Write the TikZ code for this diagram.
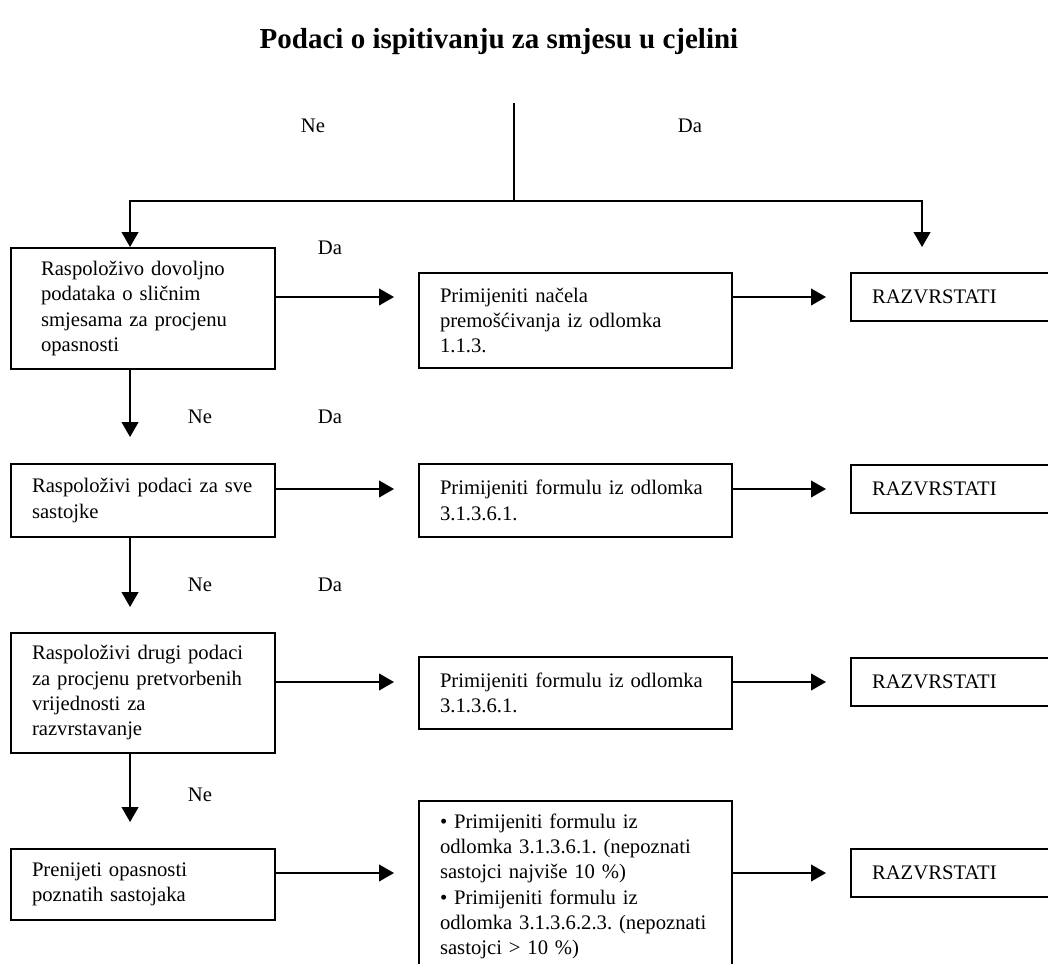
\documentclass[tikz,border=0pt]{standalone}
\usepackage{fontspec}
\setmainfont{Liberation Serif}
\usetikzlibrary{arrows.meta}
\frenchspacing
\begin{document}
% one unit = one pixel of a 1048 x 964 sheet; y grows downwards
\begin{tikzpicture}[x=0.6pt,y=-0.6pt,
  every node/.style={font=\fontsize{12.4pt}{15.2pt}\selectfont},
  box/.style={draw, line width=1.15pt, inner sep=0pt, align=left},
  lbl/.style={inner sep=0pt},
  arr/.style={line width=1.2pt, -{Triangle[width=10pt,length=9pt]}},
  link/.style={line width=1.2pt}]
\useasboundingbox (0,0) rectangle (1048,964);
\clip (0,0) rectangle (1048,964);
\fill[white] (0,0) rectangle (1048,964);

% heading
\node[lbl, font=\fontsize{17.4pt}{21pt}\selectfont\bfseries] (title) at (499,42)
  {Podaci o ispitivanju za smjesu u cjelini};

% left column: questions
\node[box, minimum width=158.4pt, minimum height=72.6pt, text width=122.4pt] (L1) at (143,308.5)
  {\mbox{Raspoloživo dovoljno}\\ \mbox{podataka o sličnim}\\ \mbox{smjesama za procjenu}\\ opasnosti};
\node[box, minimum width=158.4pt, minimum height=43.8pt, text width=133.2pt] (L2) at (143,500.5)
  {\mbox{Raspoloživi podaci za sve}\\ sastojke};
\node[box, minimum width=158.4pt, minimum height=72pt, text width=133.2pt] (L3) at (143,693)
  {\mbox{Raspoloživi drugi podaci}\\ \mbox{za procjenu pretvorbenih}\\ \mbox{vrijednosti za}\\ razvrstavanje};
\node[box, minimum width=158.4pt, minimum height=42.6pt, text width=133.2pt] (L4) at (143,884.5)
  {\mbox{Prenijeti opasnosti}\\ \mbox{poznatih sastojaka}};

% middle column: methods
\node[box, minimum width=187.8pt, minimum height=57pt, text width=162.6pt] (M1) at (575.5,320.5)
  {\mbox{Primijeniti načela}\\ \mbox{premošćivanja iz odlomka}\\ 1.1.3.};
\node[box, minimum width=187.8pt, minimum height=43.8pt, text width=162.6pt] (M2) at (575.5,500.5)
  {\mbox{Primijeniti formulu iz odlomka}\\ 3.1.3.6.1.};
\node[box, minimum width=187.8pt, minimum height=43.2pt, text width=162.6pt] (M3) at (575.5,693)
  {\mbox{Primijeniti formulu iz odlomka}\\ 3.1.3.6.1.};
\node[box, minimum width=187.8pt, minimum height=102.6pt, text width=162.6pt] (M4) at (575.5,886.5)
  {\mbox{• Primijeniti formulu iz}\\ \mbox{odlomka 3.1.3.6.1. (nepoznati}\\ \mbox{sastojci najviše 10 \%)}\\
   \mbox{• Primijeniti formulu iz}\\ \mbox{odlomka 3.1.3.6.2.3. (nepoznati}\\ \mbox{sastojci > 10 \%)}};

% right column: outcome
\node[box, minimum width=125.4pt, minimum height=28.8pt, text width=100.2pt] (R1) at (955.5,297) {RAZVRSTATI};
\node[box, minimum width=125.4pt, minimum height=28.8pt, text width=100.2pt] (R2) at (955.5,489) {RAZVRSTATI};
\node[box, minimum width=125.4pt, minimum height=28.8pt, text width=100.2pt] (R3) at (955.5,682) {RAZVRSTATI};
\node[box, minimum width=125.4pt, minimum height=28.8pt, text width=100.2pt] (R4) at (955.5,873) {RAZVRSTATI};

% branch labels
\node[lbl] (ne0) at (313,126) {Ne};
\node[lbl] (da0) at (690,126) {Da};
\node[lbl] (da1) at (330,248) {Da};
\node[lbl] (ne1) at (200,417) {Ne};
\node[lbl] (da2) at (330,417) {Da};
\node[lbl] (ne2) at (200,585) {Ne};
\node[lbl] (da3) at (330,585) {Da};
\node[lbl] (ne3) at (200,795) {Ne};

% top split
\coordinate (start) at (514,103);
\coordinate (split) at (514,201);
\draw[line width=0.8pt] (start) -- (split);
\draw[arr] (split) -| ([xshift=72pt]L1.north west);
\draw[arr, shorten >=15pt] (split) -| ([xshift=43.2pt]R1.north west);

% downward chain of the left column
\draw[arr, shorten >=15.6pt] ([xshift=72pt]L1.south west) -- ([xshift=72pt]L2.north west);
\draw[arr, shorten >=15pt] ([xshift=72pt]L2.south west) -- ([xshift=72pt]L3.north west);
\draw[arr, shorten >=15.6pt] ([xshift=72pt]L3.south west) -- ([xshift=72pt]L4.north west);

% left to middle
\draw[arr, shorten >=14.4pt] ([yshift=6.9pt]L1.east) -- ([yshift=6.9pt]L1.east -| M1.west);
\draw[arr, shorten >=14.4pt] ([yshift=6.9pt]L2.east) -- ([yshift=6.9pt]L2.east -| M2.west);
\draw[arr, shorten >=14.4pt] ([yshift=6.6pt]L3.east) -- ([yshift=6.6pt]L3.east -| M3.west);
\draw[arr, shorten >=14.4pt] ([yshift=6.9pt]L4.east) -- ([yshift=6.9pt]L4.east -| M4.west);

% middle to right
\draw[arr, shorten >=14.4pt] (M1.east |- R1.west) -- (R1.west);
\draw[arr, shorten >=14.4pt] (M2.east |- R2.west) -- (R2.west);
\draw[arr, shorten >=14.4pt] (M3.east |- R3.west) -- (R3.west);
\draw[arr, shorten >=14.4pt] (M4.east |- R4.west) -- (R4.west);
\end{tikzpicture}
\end{document}
